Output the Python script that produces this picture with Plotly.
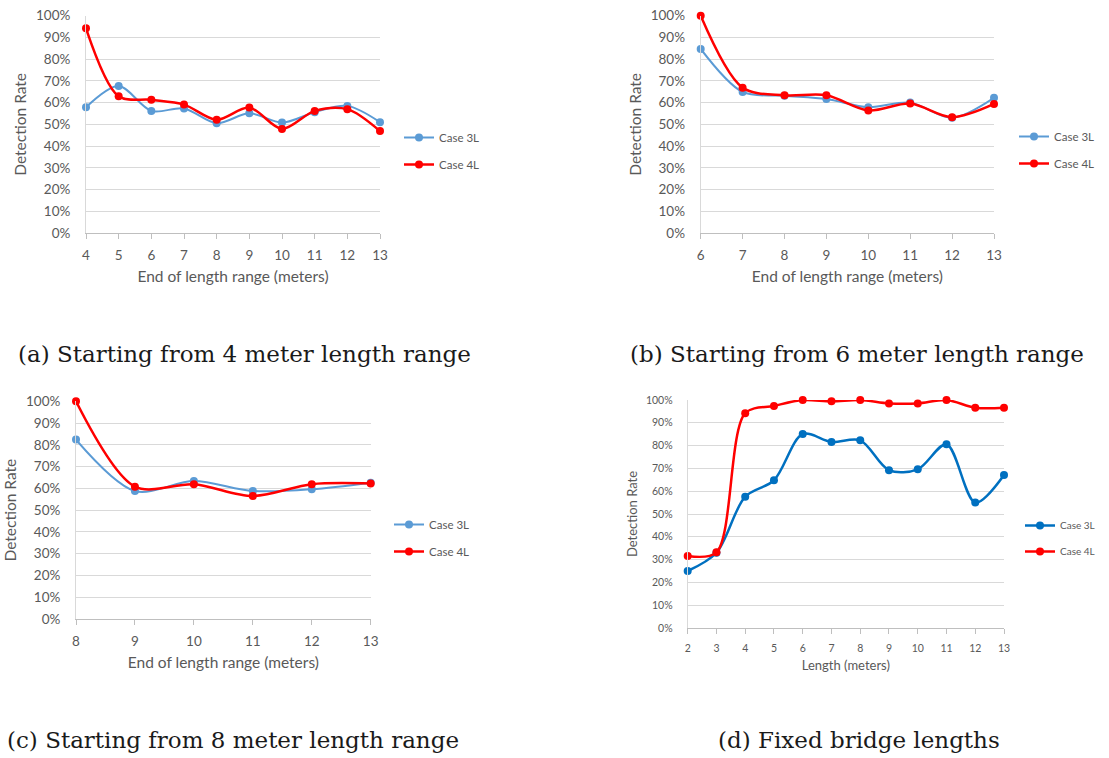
import plotly.graph_objects as go

# ---- data ----
x_a = [4, 5, 6, 7, 8, 9, 10, 11, 12, 13]
a_3l = [0.579, 0.677, 0.562, 0.573, 0.505, 0.551, 0.508, 0.556, 0.585, 0.510]
a_4l = [0.942, 0.629, 0.613, 0.591, 0.521, 0.577, 0.479, 0.562, 0.570, 0.469]

x_b = [6, 7, 8, 9, 10, 11, 12, 13]
b_3l = [0.847, 0.649, 0.632, 0.617, 0.579, 0.600, 0.530, 0.622]
b_4l = [1.000, 0.669, 0.634, 0.634, 0.564, 0.596, 0.533, 0.594]

x_c = [8, 9, 10, 11, 12, 13]
c_3l = [0.824, 0.588, 0.634, 0.588, 0.596, 0.626]
c_4l = [1.000, 0.608, 0.619, 0.565, 0.619, 0.622]

x_d = [2, 3, 4, 5, 6, 7, 8, 9, 10, 11, 12, 13]
d_3l = [0.250, 0.330, 0.576, 0.648, 0.851, 0.816, 0.823, 0.692, 0.696, 0.806, 0.550, 0.671]
d_4l = [0.316, 0.332, 0.942, 0.974, 1.000, 0.994, 1.000, 0.985, 0.985, 1.000, 0.966, 0.966]

y_ticks = [0, 0.1, 0.2, 0.3, 0.4, 0.5, 0.6, 0.7, 0.8, 0.9, 1.0]
y_tick_labels = ["0%", "10%", "20%", "30%", "40%", "50%", "60%", "70%", "80%", "90%", "100%"]

series_names = ["Case 3L", "Case 4L"]
captions = ["(a) Starting from 4 meter length range",
            "(b) Starting from 6 meter length range",
            "(c) Starting from 8 meter length range",
            "(d) Fixed bridge lengths"]
x_titles = ["End of length range (meters)", "End of length range (meters)",
            "End of length range (meters)", "Length (meters)"]
y_title = "Detection Rate"

W, H = 1109, 758
FONT = "Lato"
GRAY = "#595959"
LIGHT_BLUE = "#5B9BD5"
DARK_BLUE = "#0070C0"
RED = "#FF0000"

fig = go.Figure()

# panel geometry (pixels): x0,x1 of plot, y of 0%, y of 100%
panels = [
    dict(x=x_a, s3=a_3l, s4=a_4l, px=(86, 380), py=(233, 15.7), blue=LIGHT_BLUE,
         tfs=13.5, ttl=15.5, leg=(399, 123), lfs=11.5, gap=8),
    dict(x=x_b, s3=b_3l, s4=b_4l, px=(700.7, 994), py=(233, 15.7), blue=LIGHT_BLUE,
         tfs=13.5, ttl=15.5, leg=(1014, 122), lfs=11.5, gap=8),
    dict(x=x_c, s3=c_3l, s4=c_4l, px=(76, 370.7), py=(619, 401.3), blue=LIGHT_BLUE,
         tfs=13.5, ttl=15.5, leg=(389, 510), lfs=11.5, gap=8),
    dict(x=x_d, s3=d_3l, s4=d_4l, px=(687.7, 1004), py=(628, 400), blue=DARK_BLUE,
         tfs=10.5, ttl=13, leg=(1020, 511), lfs=10, gap=7),
]

for i, p in enumerate(panels):
    n = i + 1
    xa = "x" if n == 1 else f"x{n}"
    ya = "y" if n == 1 else f"y{n}"
    lg = "legend" if n == 1 else f"legend{n}"
    wb = 2 if i < 3 else 2.5
    fig.add_trace(go.Scatter(
        x=p["x"], y=p["s3"], name=series_names[0], mode="lines+markers",
        line=dict(color=p["blue"], width=wb, shape="spline", smoothing=0.9),
        marker=dict(color=p["blue"], size=8), xaxis=xa, yaxis=ya, legend=lg,
        legendgroup=f"g{n}a", cliponaxis=False))
    fig.add_trace(go.Scatter(
        x=p["x"], y=p["s4"], name=series_names[1], mode="lines+markers",
        line=dict(color=RED, width=2.5, shape="spline", smoothing=0.9),
        marker=dict(color=RED, size=8), xaxis=xa, yaxis=ya, legend=lg,
        legendgroup=f"g{n}b", cliponaxis=False))

    x0, x1 = p["px"]
    y0, y1 = p["py"]
    xkey = "xaxis" if n == 1 else f"xaxis{n}"
    ykey = "yaxis" if n == 1 else f"yaxis{n}"
    fig.update_layout({
        xkey: dict(
            domain=[x0 / W, x1 / W], anchor=ya, automargin=False,
            range=[min(p["x"]), max(p["x"])], tickmode="array", tickvals=p["x"],
            showgrid=False, zeroline=False, showline=True, linecolor="#BFBFBF",
            linewidth=1, ticks="outside", ticklen=5, tickcolor="#BFBFBF",
            tickfont=dict(family=FONT, size=p["tfs"], color=GRAY),
            ticklabelstandoff=5,
            title=dict(text=x_titles[i], font=dict(family=FONT, size=p["ttl"], color=GRAY),
                       standoff=8),
        ),
        ykey: dict(
            domain=[1 - y0 / H, 1 - y1 / H], anchor=xa, automargin=False,
            range=[0, 1], tickmode="array", tickvals=y_ticks, ticktext=y_tick_labels,
            showgrid=True, gridcolor="#D9D9D9", gridwidth=1, zeroline=False,
            showline=True, linecolor="#D9D9D9", linewidth=1, ticks="",
            tickfont=dict(family=FONT, size=p["tfs"], color=GRAY),
            ticklabelstandoff=12,
            title=dict(text=y_title, font=dict(family=FONT, size=p["ttl"], color=GRAY),
                       standoff=5),
        ),
        lg: dict(
            x=p["leg"][0] / W, y=1 - p["leg"][1] / H, xanchor="left", yanchor="top",
            bgcolor="rgba(0,0,0,0)", font=dict(family=FONT, size=p["lfs"], color=GRAY),
            itemwidth=30, tracegroupgap=p["gap"],
        ),
    })

cap_pos = [(244, 354), (857, 354), (233, 740), (859, 740)]
for txt, (cx, cy) in zip(captions, cap_pos):
    fig.add_annotation(text=txt, x=cx / W, y=1 - cy / H, xref="paper", yref="paper",
                       showarrow=False, xanchor="center", yanchor="middle",
                       font=dict(family="DejaVu Serif", size=23, color="#1a1a1a"))

fig.update_layout(
    width=W, height=H, margin=dict(l=0, r=0, t=0, b=0, autoexpand=False),
    paper_bgcolor="white", plot_bgcolor="white", showlegend=True,
)

fig.write_html("out.html", config={"displayModeBar": False},
               post_script="document.body.style.margin='0';document.body.style.overflow='hidden';")
